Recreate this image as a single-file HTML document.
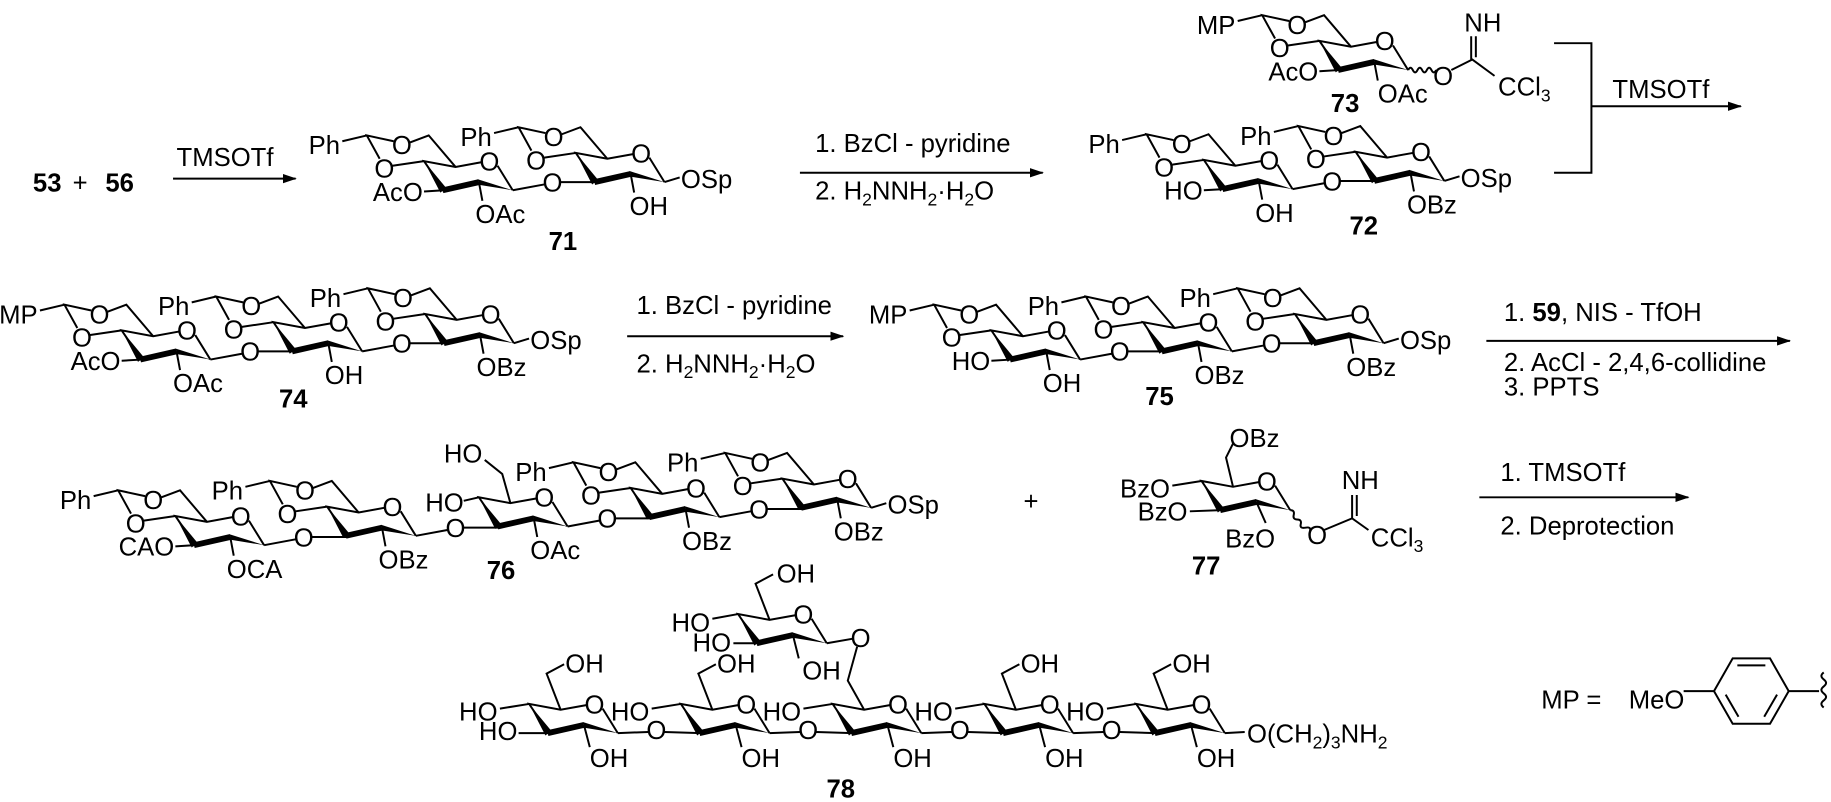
<!DOCTYPE html>
<html><head><meta charset="utf-8"><style>
html,body{margin:0;padding:0;background:#fff;}
svg{display:block;}
text{font-family:"Liberation Sans",Arial,sans-serif;font-size:22px;fill:#000;}
.m{text-anchor:middle;}
.e{text-anchor:end;}
.b{font-weight:bold;}
.s{fill:none;stroke:#000;stroke-width:1.7;}
</style></head><body>
<svg width="1831" height="802" viewBox="0 0 1568 687" xmlns="http://www.w3.org/2000/svg">
<defs>
<g id="ring">
<path class="s" d="M17,25 L0,0 L27,5 L49,1 M63,4 L76,25"/>
<polygon points="0,0 19,23 14,27"/>
<path d="M16,25 L47,18" stroke="#000" stroke-width="5" fill="none"/>
<polygon points="46,15.5 48,20.5 76,25"/>
</g>
<path id="bz" class="s" d="M27,5 L4,-22 L-12,-16 M-26,-17 L-49,-22 L-38,-2 M-27,4 L0,0 M-49,-22 L-70,-17"/>
<path id="b3" class="s" d="M17,25 L0,26"/>
<path id="b2" class="s" d="M47,18 L50,34"/>
<path id="bgly" class="s" d="M76,25 L103,20 M117,18 L147,18"/>
<path id="bosp" class="s" d="M76,25 L89,21"/>
<path id="b4" class="s" d="M0,0 L-13,3"/>
<path id="b4l" class="s" d="M0,0 L-25,4"/>
<path id="b3l" class="s" d="M17,25 L-9,25"/>
<path id="b2l" class="s" d="M47,18 L52,37"/>
<path id="b6" class="s" d="M27,5 L15,-26 L30,-34"/>
<path id="bg0" class="s" d="M76,25 L102,24 M116,24 L147,25"/>
<marker id="ah" markerWidth="12" markerHeight="8" refX="11" refY="4" orient="auto" markerUnits="userSpaceOnUse"><path d="M0,0 L12,4 L0,8 Z" fill="#000"/></marker>
</defs>

<!-- Row 1 -->
<text x="28" y="164" class="b">53</text><text x="62" y="164">+</text><text x="90" y="164" class="b">56</text>
<line x1="148" y1="153" x2="253" y2="153" class="s" marker-end="url(#ah)"/>
<text x="151" y="142">TMSOTf</text>

<!-- 71 -->
<g transform="translate(363,138)">
<use href="#ring"/><use href="#bz"/><use href="#b3"/><use href="#b2"/><use href="#bgly"/>
<text x="56" y="8" class="m">O</text><text x="-19" y="-6" class="m">O</text><text x="-34" y="14" class="m">O</text>
<text x="-72" y="-6" class="e">Ph</text><text x="-1" y="34" class="e">AcO</text><text x="44" y="53">OAc</text>
<text x="110" y="26" class="m">O</text>
<g transform="translate(130,-7)">
<use href="#ring"/><use href="#bz"/><use href="#b2"/><use href="#bosp"/>
<text x="56" y="8" class="m">O</text><text x="-19" y="-6" class="m">O</text><text x="-34" y="14" class="m">O</text>
<text x="-72" y="-6" class="e">Ph</text><text x="46" y="53">OH</text><text x="90" y="30">OSp</text>
</g>
</g>
<text x="482" y="214" class="m b">71</text>

<line x1="685" y1="148" x2="893" y2="148" class="s" marker-end="url(#ah)"/>
<text x="698" y="130">1. BzCl - pyridine</text>
<text x="698" y="171">2. H<tspan font-size="15" dy="5">2</tspan><tspan dy="-5">NNH</tspan><tspan font-size="15" dy="5">2</tspan><tspan dy="-5">·H</tspan><tspan font-size="15" dy="5">2</tspan><tspan dy="-5">O</tspan></text>

<!-- 72 -->
<g transform="translate(1031,137)">
<use href="#ring"/><use href="#bz"/><use href="#b3"/><use href="#b2"/><use href="#bgly"/>
<text x="56" y="8" class="m">O</text><text x="-19" y="-6" class="m">O</text><text x="-34" y="14" class="m">O</text>
<text x="-72" y="-6" class="e">Ph</text><text x="-1" y="34" class="e">HO</text><text x="44" y="53">OH</text>
<text x="110" y="26" class="m">O</text>
<g transform="translate(130,-7)">
<use href="#ring"/><use href="#bz"/><use href="#b2"/><use href="#bosp"/>
<text x="56" y="8" class="m">O</text><text x="-19" y="-6" class="m">O</text><text x="-34" y="14" class="m">O</text>
<text x="-72" y="-6" class="e">Ph</text><text x="44" y="53">OBz</text><text x="90" y="30">OSp</text>
</g>
</g>
<text x="1168" y="201" class="m b">72</text>

<!-- 73 -->
<g transform="translate(1130,35)">
<use href="#ring"/><use href="#bz"/><use href="#b3"/><use href="#b2"/>
<path class="s" d="M76,25 q2,-4 4,0 t4,0 t4,0 t4,0 t4,0 t4,0"/>
<path class="s" d="M113,25 L131,16 L150,30 M130,16 L130,-4 M134,14 L134,-4"/>
<text x="56" y="8" class="m">O</text><text x="-19" y="-6" class="m">O</text><text x="-34" y="14" class="m">O</text>
<text x="-72" y="-6" class="e">MP</text><text x="-1" y="34" class="e">AcO</text><text x="50" y="53">OAc</text>
<text x="106" y="38" class="m">O</text>
<text x="140" y="-8" class="m">NH</text>
<text x="153" y="47">CCl<tspan font-size="15" dy="5">3</tspan></text>
</g>
<text x="1152" y="96" class="m b">73</text>

<path class="s" d="M1331,37 L1363,37 L1363,148 L1331,148"/>
<line x1="1363" y1="91" x2="1491" y2="91" class="s" marker-end="url(#ah)"/>
<text x="1381" y="84">TMSOTf</text>

<!-- Row 2: 74 -->
<g transform="translate(104,283)">
<use href="#ring"/><use href="#bz"/><use href="#b3"/><use href="#b2"/><use href="#bgly"/>
<text x="56" y="8" class="m">O</text><text x="-19" y="-6" class="m">O</text><text x="-34" y="14" class="m">O</text>
<text x="-72" y="-6" class="e">MP</text><text x="-1" y="34" class="e">AcO</text><text x="44" y="53">OAc</text>
<text x="110" y="26" class="m">O</text>
<g transform="translate(130,-7)">
<use href="#ring"/><use href="#bz"/><use href="#b2"/><use href="#bgly"/>
<text x="56" y="8" class="m">O</text><text x="-19" y="-6" class="m">O</text><text x="-34" y="14" class="m">O</text>
<text x="-72" y="-6" class="e">Ph</text><text x="44" y="53">OH</text>
<text x="110" y="26" class="m">O</text>
<g transform="translate(130,-7)">
<use href="#ring"/><use href="#bz"/><use href="#b2"/><use href="#bosp"/>
<text x="56" y="8" class="m">O</text><text x="-19" y="-6" class="m">O</text><text x="-34" y="14" class="m">O</text>
<text x="-72" y="-6" class="e">Ph</text><text x="44" y="53">OBz</text><text x="90" y="30">OSp</text>
</g>
</g>
</g>
<text x="251" y="349" class="m b">74</text>

<line x1="537" y1="288" x2="722" y2="288" class="s" marker-end="url(#ah)"/>
<text x="545" y="269">1. BzCl - pyridine</text>
<text x="545" y="319">2. H<tspan font-size="15" dy="5">2</tspan><tspan dy="-5">NNH</tspan><tspan font-size="15" dy="5">2</tspan><tspan dy="-5">·H</tspan><tspan font-size="15" dy="5">2</tspan><tspan dy="-5">O</tspan></text>

<!-- 75 -->
<g transform="translate(849,283)">
<use href="#ring"/><use href="#bz"/><use href="#b3"/><use href="#b2"/><use href="#bgly"/>
<text x="56" y="8" class="m">O</text><text x="-19" y="-6" class="m">O</text><text x="-34" y="14" class="m">O</text>
<text x="-72" y="-6" class="e">MP</text><text x="-1" y="34" class="e">HO</text><text x="44" y="53">OH</text>
<text x="110" y="26" class="m">O</text>
<g transform="translate(130,-7)">
<use href="#ring"/><use href="#bz"/><use href="#b2"/><use href="#bgly"/>
<text x="56" y="8" class="m">O</text><text x="-19" y="-6" class="m">O</text><text x="-34" y="14" class="m">O</text>
<text x="-72" y="-6" class="e">Ph</text><text x="44" y="53">OBz</text>
<text x="110" y="26" class="m">O</text>
<g transform="translate(130,-7)">
<use href="#ring"/><use href="#bz"/><use href="#b2"/><use href="#bosp"/>
<text x="56" y="8" class="m">O</text><text x="-19" y="-6" class="m">O</text><text x="-34" y="14" class="m">O</text>
<text x="-72" y="-6" class="e">Ph</text><text x="44" y="53">OBz</text><text x="90" y="30">OSp</text>
</g>
</g>
</g>
<text x="993" y="347" class="m b">75</text>

<line x1="1273" y1="292" x2="1533" y2="292" class="s" marker-end="url(#ah)"/>
<text x="1288" y="275">1. <tspan font-weight="bold">59</tspan>, NIS - TfOH</text>
<text x="1288" y="318">2.  AcCl - 2,4,6-collidine</text>
<text x="1288" y="339">3. PPTS</text>

<!-- Row 3: 76 -->
<g transform="translate(150,442)">
<use href="#ring"/><use href="#bz"/><use href="#b3"/><use href="#b2"/><use href="#bgly"/>
<text x="56" y="8" class="m">O</text><text x="-19" y="-6" class="m">O</text><text x="-34" y="14" class="m">O</text>
<text x="-72" y="-6" class="e">Ph</text><text x="-1" y="34" class="e">CAO</text><text x="44" y="53">OCA</text>
<text x="110" y="26" class="m">O</text>
<g transform="translate(130,-8)">
<use href="#ring"/><use href="#bz"/><use href="#b2"/><use href="#bgly"/>
<text x="56" y="8" class="m">O</text><text x="-19" y="-6" class="m">O</text><text x="-34" y="14" class="m">O</text>
<text x="-72" y="-6" class="e">Ph</text><text x="44" y="53">OBz</text>
<text x="110" y="26" class="m">O</text>
<g transform="translate(130,-8)">
<use href="#ring"/><use href="#b4"/><use href="#b2"/><use href="#bgly"/>
<path class="s" d="M27,5 L20,-20 L5,-32"/>
<text x="56" y="8" class="m">O</text>
<text x="-13" y="12" class="e">HO</text><text x="3" y="-30" class="e">HO</text><text x="44" y="53">OAc</text>
<text x="110" y="26" class="m">O</text>
<g transform="translate(130,-8)">
<use href="#ring"/><use href="#bz"/><use href="#b2"/><use href="#bgly"/>
<text x="56" y="8" class="m">O</text><text x="-19" y="-6" class="m">O</text><text x="-34" y="14" class="m">O</text>
<text x="-72" y="-6" class="e">Ph</text><text x="44" y="53">OBz</text>
<text x="110" y="26" class="m">O</text>
<g transform="translate(130,-8)">
<use href="#ring"/><use href="#bz"/><use href="#b2"/><use href="#bosp"/>
<text x="56" y="8" class="m">O</text><text x="-19" y="-6" class="m">O</text><text x="-34" y="14" class="m">O</text>
<text x="-72" y="-6" class="e">Ph</text><text x="44" y="53">OBz</text><text x="90" y="30">OSp</text>
</g>
</g>
</g>
</g>
</g>
<text x="429" y="496" class="m b">76</text>

<text x="883" y="437" class="m">+</text>

<!-- 77 -->
<g transform="translate(1029,412)">
<use href="#ring"/><use href="#b4l"/>
<path class="s" d="M17,25 L-10,26 M47,18 L55,36 M27,5 L21,-20 L27,-32"/>
<path class="s" d="M76,25 q4,0 3,4 t3,4 t3,4 t4,3 t4,3"/>
<path class="s" d="M105,42 L129,32 L143,42 M129,32 L129,12 M133,30 L133,12"/>
<text x="56" y="8" class="m">O</text>
<text x="-27" y="14" class="e">BzO</text><text x="-12" y="34" class="e">BzO</text><text x="63" y="57" class="e">BzO</text>
<text x="24" y="-29">OBz</text>
<text x="99" y="54" class="m">O</text>
<text x="136" y="7" class="m">NH</text>
<text x="145" y="56">CCl<tspan font-size="15" dy="5">3</tspan></text>
</g>
<text x="1033" y="492" class="m b">77</text>

<line x1="1267" y1="426" x2="1446" y2="426" class="s" marker-end="url(#ah)"/>
<text x="1285" y="412">1. TMSOTf</text>
<text x="1285" y="458">2. Deprotection</text>

<!-- Row 4: 78 -->
<g transform="translate(453,603)">
<use href="#ring"/><use href="#b4l"/><use href="#b3l"/><use href="#b2l"/><use href="#b6"/><use href="#bg0"/>
<text x="56" y="8" class="m">O</text><text x="-27" y="14" class="e">HO</text><text x="-10" y="31" class="e">HO</text>
<text x="52" y="54">OH</text><text x="31" y="-27">OH</text><text x="109" y="30" class="m">O</text>
</g>
<g transform="translate(583,603)">
<use href="#ring"/><use href="#b4l"/><use href="#b2l"/><use href="#b6"/><use href="#bg0"/>
<text x="56" y="8" class="m">O</text><text x="-27" y="14" class="e">HO</text>
<text x="52" y="54">OH</text><text x="31" y="-27">OH</text><text x="109" y="30" class="m">O</text>
</g>
<g transform="translate(713,603)">
<use href="#ring"/><use href="#b4l"/><use href="#b2l"/><use href="#bg0"/>
<path class="s" d="M27,5 L13,-20 L21,-49"/>
<text x="56" y="8" class="m">O</text><text x="-27" y="14" class="e">HO</text>
<text x="52" y="54">OH</text><text x="24" y="-49" class="m">O</text><text x="109" y="30" class="m">O</text>
</g>
<g transform="translate(843,603)">
<use href="#ring"/><use href="#b4l"/><use href="#b2l"/><use href="#b6"/><use href="#bg0"/>
<text x="56" y="8" class="m">O</text><text x="-27" y="14" class="e">HO</text>
<text x="52" y="54">OH</text><text x="31" y="-27">OH</text><text x="109" y="30" class="m">O</text>
</g>
<g transform="translate(973,603)">
<use href="#ring"/><use href="#b4l"/><use href="#b2l"/><use href="#b6"/>
<path class="s" d="M76,25 L93,24"/>
<text x="56" y="8" class="m">O</text><text x="-27" y="14" class="e">HO</text>
<text x="52" y="54">OH</text><text x="31" y="-27">OH</text>
<text x="95" y="33">O(CH<tspan font-size="15" dy="5">2</tspan><tspan dy="-5">)</tspan><tspan font-size="15" dy="5">3</tspan><tspan dy="-5">NH</tspan><tspan font-size="15" dy="5">2</tspan></text>
</g>
<!-- branch glucose -->
<g transform="translate(632,526)">
<use href="#ring"/><use href="#b6"/>
<path class="s" d="M0,0 L-22,4 M17,25 L-4,25 M47,18 L52,38 M76,25 L99,21"/>
<text x="56" y="8" class="m">O</text><text x="-24" y="15" class="e">HO</text><text x="-6" y="32" class="e">HO</text>
<text x="55" y="56">OH</text><text x="33" y="-27">OH</text>
</g>
<text x="720" y="683" class="m b">78</text>

<!-- MP legend -->
<text x="1320" y="607">MP =</text>
<text x="1395" y="607">MeO</text>
<path class="s" d="M1442,592 L1468,592"/>
<path class="s" d="M1468,592 L1484,564 L1516,564 L1532,592 L1516,620 L1484,620 Z"/>
<path class="s" d="M1488,570 L1512,570 M1478,595 L1489,614 M1522,595 L1511,614"/>
<path class="s" d="M1532,592 L1558,592"/>
<path class="s" d="M1562,576 q-4,3 0,6 t0,6 t0,6 t0,6 t0,6"/>
</svg>
</body></html>
